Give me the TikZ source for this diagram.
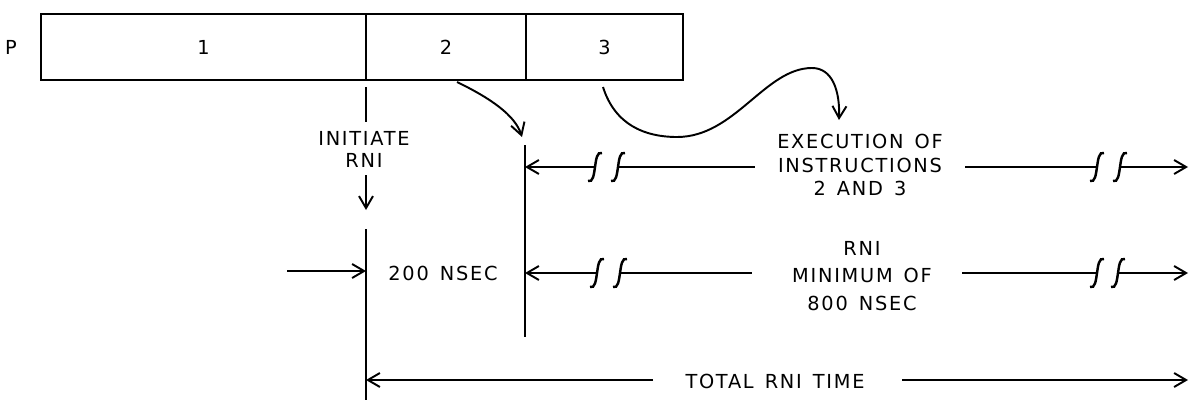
\documentclass[tikz,border=0pt]{standalone}
\usepackage{fontspec}
\newfontfamily\letr{DejaVu Sans}[LetterSpace=9,WordSpace=1.4]
\usetikzlibrary{arrows.meta}

\tikzset{
    lbl/.style={font=\letr\fontsize{11}{12.5}\selectfont, align=center, inner sep=0pt},
    cell/.style={draw, rectangle, line width=1.1pt, minimum height=1.32cm, inner sep=0pt,
                 font=\letr\fontsize{11}{12.5}\selectfont},
    ln/.style={line width=1.1pt},
    arr/.style={ln, -{Straight Barb[length=2.4mm,width=2.8mm]}},
    brk/.pic={\draw[line width=1.4pt] (-7,14) .. controls (-2,16) and (-1,7) .. (0,0) .. controls (1,-7) and (2,-16) .. (7,-14);}
}

\begin{document}
\begin{tikzpicture}[x=0.02cm, y=-0.02cm]

\useasboundingbox (0,0) rectangle (1190,403);

% ================= register P =================

\node[lbl] (p) at (11,47) {P};

\node[cell, minimum width=6.5cm]  (c1) at (203.5,47) {1};
\node[cell, minimum width=3.2cm]  (c2) at (446,47)   {2};
\node[cell, minimum width=3.14cm] (c3) at (604.5,47) {3};

% ================= initiate RNI =================

\coordinate (t0) at (366,87);
\coordinate (t1) at (366,122);
\node[lbl] (init) at (364,149) {INITIATE\\RNI};
\coordinate (t2) at (366,175);
\coordinate (t3) at (366,210);

\draw[ln] (t0)--(t1);
\draw[arr] (t2)--(t3);

\coordinate (a0) at (366,229);
\coordinate (a1) at (366,400);
\draw[ln] (a0)--(a1);

\coordinate (b0) at (525,145);
\coordinate (b1) at (525,337);
\draw[ln] (b0)--(b1);

% ================= curved arrows from 2 and 3 =================

\coordinate (k0) at (457,82);
\coordinate (k1) at (522,137);
\draw[arr] (k0) .. controls (490,98) and (515,115) .. (k1);

\coordinate (m0) at (603,87);
\coordinate (m1) at (839,120);
\draw[arr] (m0) .. controls (615,125) and (645,137) .. (677,137)
                .. controls (735,137) and (765,68) .. (812,68)
                .. controls (832,68) and (840,90) .. (m1);

% ================= execution of instructions =================

\node[lbl] (exec) at (860,165) {EXECUTION OF\\[1pt]INSTRUCTIONS\\[1pt]2 AND 3};

\coordinate (u1) at (595,167);
\coordinate (u2) at (618,167);
\coordinate (u3) at (755,167);
\coordinate (u4) at (965,167);
\coordinate (u5) at (1097,167);
\coordinate (u6) at (1120,167);
\coordinate (u7) at (1188,167);

\draw[arr] (u1)--(u1 -| b0);
\draw[ln] (u2)--(u3);
\draw[ln] (u4)--(u5);
\draw[arr] (u6)--(u7);
\pic at (u1) {brk};
\pic at (u2) {brk};
\pic at (u5) {brk};
\pic at (u6) {brk};

% ================= RNI minimum =================

\node[lbl] (dly) at (443,273) {200 NSEC};
\node[lbl] (rni) at (862,276) {RNI\\[3pt]MINIMUM OF\\[3pt]800 NSEC};

\coordinate (s0) at (287,271);
\draw[arr] (s0)--(s0 -| a0);

\coordinate (l1) at (597,273);
\coordinate (l2) at (620,273);
\coordinate (l3) at (752,273);
\coordinate (l4) at (962,273);
\coordinate (l5) at (1097,273);
\coordinate (l6) at (1118,273);
\coordinate (l7) at (1188,273);

\draw[arr] (l1)--(l1 -| b0);
\draw[ln] (l2)--(l3);
\draw[ln] (l4)--(l5);
\draw[arr] (l6)--(l7);
\pic at (l1) {brk};
\pic at (l2) {brk};
\pic at (l5) {brk};
\pic at (l6) {brk};

% ================= total RNI time =================

\node[lbl] (tot) at (775,381) {TOTAL RNI TIME};
\coordinate (w0) at (653,380);
\coordinate (w1) at (902,380);
\coordinate (w2) at (1188,380);

\draw[arr] (w0)--(w0 -| a0);
\draw[arr] (w1)--(w2);

\end{tikzpicture}
\end{document}
